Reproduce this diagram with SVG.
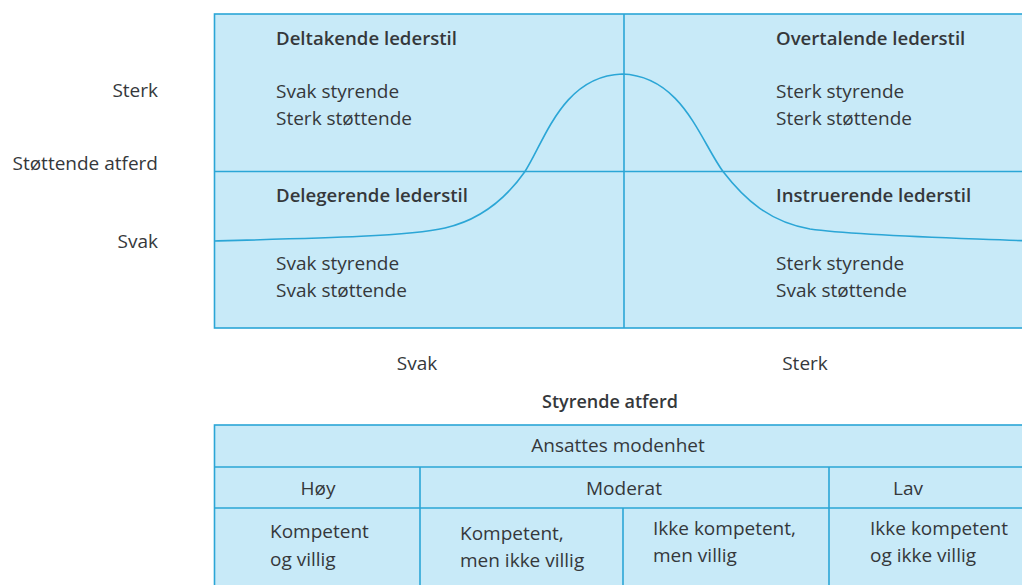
<svg xmlns="http://www.w3.org/2000/svg" width="1022" height="585" viewBox="0 0 1022 585">
<style>
.t{font-family:"Open Sans","Liberation Sans",sans-serif;font-size:19px;fill:#35383b}
.h{font-weight:600;font-size:18.6px}
.m{text-anchor:middle}
.e{text-anchor:end}
.ln{stroke:#2ba6d6;stroke-width:1.6;fill:none}
.bx{fill:#c8eaf8;stroke:#2ba6d6;stroke-width:1.6}
</style>
<rect width="1022" height="585" fill="#ffffff"/>
<g id="chart">
<rect class="bx" x="214.5" y="14" width="820" height="314"/>
<line class="ln" x1="624" y1="14" x2="624" y2="328"/>
<line class="ln" x1="214.5" y1="171.5" x2="1030" y2="171.5"/>
</g>
<g id="connectors">
<path class="ln" d="M214.5,241 C330,238 410,236 445,228 C480,220 505,200 525,171.5 C545,140 563,76 622,74 C682,76 700,140 723,171.5 C745,200 770,222 810,229 C860,236 960,238 1030,241"/>
</g>
<g id="q1">
<text class="t h" x="276" y="45">Deltakende lederstil</text>
<text class="t" x="276" y="98">Svak styrende</text>
<text class="t" x="276" y="125">Sterk støttende</text>
</g>
<g id="q2">
<text class="t h" x="776" y="45">Overtalende lederstil</text>
<text class="t" x="776" y="98">Sterk styrende</text>
<text class="t" x="776" y="125">Sterk støttende</text>
</g>
<g id="q3">
<text class="t h" x="276" y="202">Delegerende lederstil</text>
<text class="t" x="276" y="270">Svak styrende</text>
<text class="t" x="276" y="297">Svak støttende</text>
</g>
<g id="q4">
<text class="t h" x="776" y="202">Instruerende lederstil</text>
<text class="t" x="776" y="270">Sterk styrende</text>
<text class="t" x="776" y="297">Svak støttende</text>
</g>
<g id="yaxis">
<text class="t e" x="158" y="97">Sterk</text>
<text class="t e" x="158" y="170">Støttende atferd</text>
<text class="t e" x="158" y="248">Svak</text>
</g>
<g id="xaxis">
<text class="t m" x="417" y="370">Svak</text>
<text class="t m" x="805" y="370">Sterk</text>
<text class="t h m" x="610" y="408" style="font-size:18px">Styrende atferd</text>
</g>
<g id="table">
<rect class="bx" x="214.5" y="425" width="820" height="170"/>
<line class="ln" x1="214.5" y1="467" x2="1030" y2="467"/>
<line class="ln" x1="214.5" y1="508" x2="1030" y2="508"/>
<line class="ln" x1="420" y1="467" x2="420" y2="590"/>
<line class="ln" x1="623" y1="508" x2="623" y2="590"/>
<line class="ln" x1="829" y1="467" x2="829" y2="590"/>
<text class="t m" x="618" y="452">Ansattes modenhet</text>
<text class="t m" x="318" y="495">Høy</text>
<text class="t m" x="624" y="495">Moderat</text>
<text class="t m" x="908" y="495">Lav</text>
<text class="t" x="270" y="538">Kompetent</text>
<text class="t" x="270" y="566">og villig</text>
<text class="t" x="460" y="540">Kompetent,</text>
<text class="t" x="460" y="567">men ikke villig</text>
<text class="t" x="653" y="535">Ikke kompetent,</text>
<text class="t" x="653" y="562">men villig</text>
<text class="t" x="870" y="535">Ikke kompetent</text>
<text class="t" x="870" y="562">og ikke villig</text>
</g>
</svg>
